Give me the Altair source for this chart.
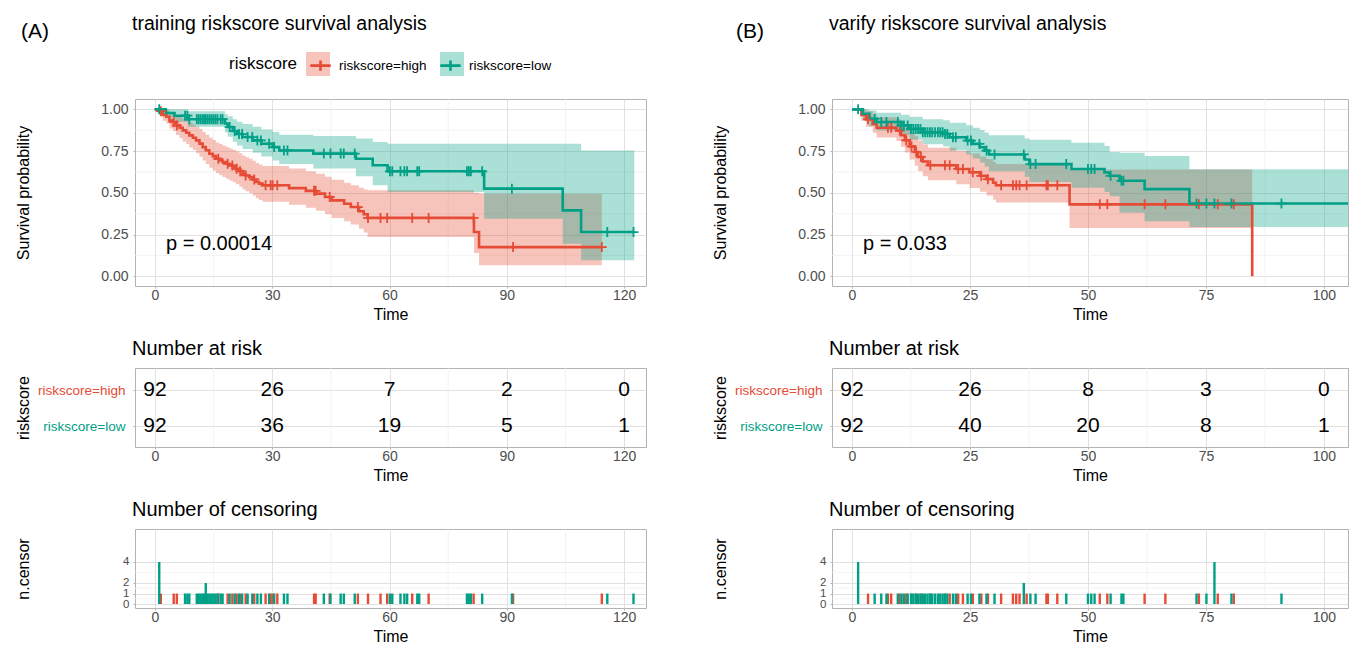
import altair as alt
import pandas as pd

RED = "#E64B35"
TEAL = "#00A087"
GROUPS = ["riskscore=high", "riskscore=low"]
SHORT = ["high", "low"]
FONT = "Liberation Sans"
MAJOR = "#DEDEDE"
MINOR = "#EEEEEE"
BORDER = "#B3B3B3"
TICKLAB = "#4D4D4D"

# ---------------- Panel A : training ----------------
A_title = "training riskscore survival analysis"
A_tag = "(A)"
A_p = "p = 0.00014"
A_ticks = [0, 30, 60, 90, 120]
A_minor = [15, 45, 75, 105]
A_xdom = [-5.1, 125.6]

A_high_t = [0, 1.0, 2.0, 2.9, 3.7, 4.6, 5.4, 6.3, 7.1, 8.0, 8.8, 9.7, 10.5, 11.4, 12.2, 13.0, 13.9, 14.8, 15.6, 16.5,
            17.3, 18.2, 19.0, 19.9, 20.7, 21.6, 22.4, 23.2, 24.1, 25.0, 25.8, 26.6, 27.5, 34.3, 38.6, 41.2, 43.5, 45.2,
            48.4, 50.1, 52.2, 53.4, 54.4, 81.6, 82.9, 114.3]
A_high_s = [1.000, 0.989, 0.967, 0.956, 0.934, 0.923, 0.904, 0.890, 0.874, 0.860, 0.844, 0.830, 0.814, 0.795, 0.774,
            0.755, 0.734, 0.720, 0.704, 0.694, 0.684, 0.674, 0.664, 0.654, 0.644, 0.630, 0.614, 0.604, 0.594, 0.580,
            0.565, 0.555, 0.545, 0.528, 0.512, 0.495, 0.475, 0.455, 0.435, 0.415, 0.390, 0.372, 0.350, 0.265, 0.175,
            0.175]
A_high_lo = [1.000, 0.968, 0.932, 0.915, 0.886, 0.870, 0.846, 0.828, 0.808, 0.792, 0.772, 0.756, 0.737, 0.716, 0.693,
             0.672, 0.650, 0.634, 0.617, 0.606, 0.595, 0.584, 0.574, 0.563, 0.552, 0.537, 0.520, 0.510, 0.499, 0.484,
             0.468, 0.457, 0.447, 0.428, 0.410, 0.392, 0.371, 0.350, 0.330, 0.310, 0.285, 0.262, 0.235, 0.140, 0.066,
             0.066]
A_high_hi = [1.000, 1.000, 1.000, 0.998, 0.985, 0.978, 0.965, 0.955, 0.944, 0.934, 0.922, 0.910, 0.898, 0.882, 0.865,
             0.848, 0.830, 0.816, 0.802, 0.793, 0.784, 0.775, 0.766, 0.758, 0.749, 0.737, 0.722, 0.713, 0.704, 0.692,
             0.678, 0.669, 0.660, 0.645, 0.630, 0.614, 0.596, 0.578, 0.560, 0.545, 0.530, 0.520, 0.515, 0.500, 0.495,
             0.495]

A_low_t = [0, 2.8, 5.0, 8.4, 17.9, 18.6, 19.9, 21.0, 22.4, 25.0, 27.2, 30.1, 31.8, 40.5, 51.4, 55.7, 59.5, 84.2,
           104.3, 109.0, 122.6]
A_low_s = [1.000, 0.978, 0.962, 0.941, 0.915, 0.894, 0.870, 0.852, 0.834, 0.814, 0.794, 0.774, 0.754, 0.735, 0.704,
           0.665, 0.629, 0.525, 0.395, 0.265, 0.265]
A_low_lo = [1.000, 0.949, 0.926, 0.896, 0.862, 0.836, 0.806, 0.784, 0.763, 0.740, 0.717, 0.694, 0.672, 0.645, 0.600,
            0.545, 0.505, 0.345, 0.195, 0.096, 0.096]
A_low_hi = [1.000, 1.000, 1.000, 0.989, 0.972, 0.958, 0.940, 0.926, 0.912, 0.896, 0.880, 0.864, 0.848, 0.840, 0.825,
            0.805, 0.794, 0.794, 0.794, 0.754, 0.754]

A_cens_low_t = [1.1, 7.7, 8.3, 8.8, 10.7, 11.2, 11.7, 12.2, 12.6, 13.0, 13.5, 14.0, 14.5, 15.0, 15.5, 16.0, 16.8, 17.3,
                19.1, 20.4, 21.5, 22.3, 23.7, 24.9, 26.2, 27.1, 29.2, 30.5, 33.0, 33.9, 43.2, 44.9, 47.5, 48.3, 51.1,
                60.1, 60.7, 62.8, 63.8, 64.5, 67.1, 67.6, 79.8, 80.3, 80.8, 83.7, 91.3, 115.7, 122.4]
A_cens_low_n = [4, 1, 1, 1, 1, 1, 1, 1, 1, 2, 1, 1, 1, 1, 1, 1, 1, 1,
                1, 1, 1, 1, 1, 1, 1, 1, 1, 1, 1, 1, 1, 1, 1, 1, 1,
                1, 1, 1, 1, 1, 1, 1, 1, 1, 1, 1, 1, 1, 1]
A_cens_high_t = [1.5, 4.8, 5.6, 16.2, 18.6, 19.8, 20.9, 21.8, 23.2, 25.4, 28.3, 29.6, 30.1, 31.3, 40.7, 41.1, 44.7,
                 51.9, 54.5, 57.7, 59.4, 65.8, 70.0, 81.5, 91.6, 114.3]
A_cens_high_n = [1] * 26

A_risk_high = [92, 26, 7, 2, 0]
A_risk_low = [92, 36, 19, 5, 1]

# ---------------- Panel B : verify ----------------
B_title = "varify riskscore survival analysis"
B_tag = "(B)"
B_p = "p = 0.033"
B_ticks = [0, 25, 50, 75, 100]
B_minor = [12.5, 37.5, 62.5, 87.5]
B_xdom = [-4.24, 105.1]

B_high_t = [0, 2.0, 3.0, 4.4, 5.2, 9.4, 10.4, 11.2, 12.2, 13.3, 14.0, 15.0, 16.1, 22.1, 24.9, 27.1, 28.5, 29.9, 30.5,
            46.1, 84.8]
B_high_s = [1.000, 0.967, 0.940, 0.913, 0.890, 0.873, 0.845, 0.815, 0.778, 0.745, 0.715, 0.688, 0.665, 0.643, 0.623,
            0.602, 0.582, 0.560, 0.545, 0.431, 0.431]
B_high_lo = [1.000, 0.931, 0.895, 0.860, 0.831, 0.810, 0.776, 0.741, 0.699, 0.662, 0.629, 0.600, 0.575, 0.551, 0.529,
             0.506, 0.484, 0.459, 0.442, 0.290, 0.290]
B_high_hi = [1.000, 1.000, 0.988, 0.968, 0.952, 0.940, 0.920, 0.896, 0.866, 0.839, 0.814, 0.790, 0.770, 0.751, 0.735,
             0.718, 0.702, 0.684, 0.672, 0.640, 0.640]
B_high_end = [84.8, 0.0]   # last event: curve drops to zero

B_low_t = [0, 2.3, 3.7, 5.2, 10.4, 12.2, 15.0, 19.3, 20.7, 24.2, 25.6, 27.1, 28.1, 29.0, 36.6, 37.6, 46.5, 53.5, 54.6,
           56.7, 62.0, 71.5, 105.2]
B_low_s = [1.000, 0.974, 0.944, 0.924, 0.904, 0.883, 0.863, 0.853, 0.833, 0.813, 0.793, 0.773, 0.753, 0.730, 0.700,
           0.672, 0.643, 0.622, 0.602, 0.572, 0.522, 0.436, 0.436]
B_low_lo = [1.000, 0.942, 0.900, 0.874, 0.846, 0.818, 0.791, 0.778, 0.753, 0.729, 0.705, 0.681, 0.658, 0.630, 0.596,
            0.565, 0.530, 0.505, 0.480, 0.380, 0.330, 0.295, 0.295]
B_low_hi = [1.000, 1.000, 0.993, 0.980, 0.968, 0.955, 0.940, 0.934, 0.920, 0.905, 0.890, 0.876, 0.862, 0.845, 0.825,
            0.818, 0.800, 0.780, 0.745, 0.740, 0.720, 0.642, 0.642]

B_cens_low_t = [1.3, 4.8, 6.2, 7.3, 9.7, 10.5, 11.0, 11.8, 12.5, 13.0, 13.5, 14.0, 14.5, 15.0, 15.5, 16.0, 16.5, 17.0,
                17.6, 18.2, 18.7, 19.2, 19.7, 20.2, 21.4, 22.0, 24.5, 25.2, 27.0, 28.5, 30.2, 36.4, 37.8, 38.9, 45.4,
                50.0, 50.7, 51.4, 54.8, 57.1, 57.5, 73.0, 75.1, 76.8, 80.4, 91.0]
B_cens_low_n = [4, 1, 1, 1, 1, 1, 1, 1, 1, 1, 1, 1, 1, 1, 1, 1, 1, 1,
                1, 1, 1, 1, 1, 1, 1, 1, 1, 1, 1, 1, 1, 2, 1, 1, 1,
                1, 1, 1, 1, 1, 1, 1, 1, 4, 1, 1]
B_cens_high_t = [3.4, 7.6, 8.3, 10.1, 11.5, 12.6, 13.6, 14.6, 16.6, 19.7, 20.7, 22.5, 23.5, 25.6, 27.4, 28.8, 31.6,
                 34.1, 34.8, 35.5, 37.0, 41.2, 41.5, 43.5, 52.5, 54.1, 62.0, 66.4, 73.5, 77.5, 80.9]
B_cens_high_n = [1] * 31

B_risk_high = [92, 26, 8, 3, 0]
B_risk_low = [92, 40, 20, 8, 1]

SURV_TICKS = [0, 0.25, 0.5, 0.75, 1.0]
SURV_MINOR = [0.125, 0.375, 0.625, 0.875]
CENS_TICKS = [0, 1, 2, 4]
CENS_MINOR = [0.5, 1.5, 3]

H_SURV = 187
H_TAB = 79
BAND_OPACITY = 0.33


def lookup(ts, ss, t):
    v = ss[0]
    for ti, si in zip(ts, ss):
        if ti <= t + 1e-9:
            v = si
    return v


def fill_legend():
    # the pale boxes behind the legend keys (no text of their own)
    return alt.Legend(title=None, orient="none", legendX=171, legendY=-47, direction="horizontal",
                      symbolType="square", symbolSize=576, symbolOpacity=BAND_OPACITY, symbolStrokeWidth=0,
                      labelExpr="''", labelOffset=0, columnPadding=110, padding=0, zindex=0)


def stroke_legend():
    return alt.Legend(title="riskscore", orient="none", legendX=94, legendY=-47, direction="horizontal",
                      titleOrient="left", titleFontSize=17, titleFontWeight="normal", titleColor="black",
                      titleFont=FONT, titlePadding=9, titleBaseline="middle", labelFontSize=13.5,
                      labelColor="black", labelFont=FONT, symbolSize=576, columnPadding=8, labelOffset=5,
                      padding=0, symbolType="M-0.85,0H0.85M0,-0.42V0.42", symbolStrokeWidth=2.6, zindex=1)


def build(P):
    w = P["w"]
    xs = alt.Scale(domain=P["xdom"], nice=False, zero=False)
    xax = alt.Axis(values=P["ticks"], title="Time")

    band_rows, line_rows, cross_rows, cens_rows = [], [], [], []
    idx = 0
    for g, sg, (ts, ss, lo, hi) in zip(GROUPS, SHORT, P["curves"]):
        for t, s, l, h in zip(ts, ss, lo, hi):
            band_rows.append(dict(time=t, lo=l, hi=h, grp_f=sg))
            line_rows.append(dict(time=t, surv=s, grp=g, idx=idx))
            idx += 1
        if g == GROUPS[0] and P.get("high_end"):
            line_rows.append(dict(time=P["high_end"][0], surv=P["high_end"][1], grp=g, idx=idx))
            idx += 1
    for g, (ct, cn), (ts, ss, lo, hi) in zip(GROUPS, P["cens"], P["curves"]):
        for t, n in zip(ct, cn):
            cross_rows.append(dict(time=t, surv=lookup(ts, ss, t), grp_c=g))
            cens_rows.append(dict(time=t, n=n, zero=0, grp_c=g))
    band_df = pd.DataFrame(band_rows)
    line_df = pd.DataFrame(line_rows)
    cross_df = pd.DataFrame(cross_rows)
    cens_df = pd.DataFrame(cens_rows)

    ys = alt.Scale(domain=[-0.058, 1.062], nice=False, zero=False)
    yax = alt.Axis(values=SURV_TICKS, format=".2f", title="Survival probability", titleX=-112, titleY=H_SURV / 2,
                   titleAngle=270, titleBaseline="middle", titleAlign="center", labelPadding=5)
    cscale = alt.Scale(domain=GROUPS, range=[RED, TEAL])
    fscale = alt.Scale(domain=SHORT, range=[RED, TEAL])

    vgrid = alt.Chart(pd.DataFrame({"time": P["minor"]})).mark_rule(color=MINOR, strokeWidth=0.7).encode(
        x=alt.X("time:Q", scale=xs, axis=xax), y=alt.value(0), y2=alt.value(H_SURV))
    hgrid = alt.Chart(pd.DataFrame({"surv": SURV_MINOR})).mark_rule(color=MINOR, strokeWidth=0.7).encode(
        y=alt.Y("surv:Q", scale=ys, axis=yax), x=alt.value(0), x2=alt.value(w))
    band = alt.Chart(band_df).mark_area(interpolate="step-after", opacity=BAND_OPACITY, clip=True).encode(
        x=alt.X("time:Q", scale=xs, axis=xax),
        y=alt.Y("lo:Q", scale=ys, axis=yax), y2="hi:Q",
        fill=alt.Fill("grp_f:N", scale=fscale, legend=fill_legend()))
    line = alt.Chart(line_df).mark_line(interpolate="step-after", strokeWidth=2.6, clip=True).encode(
        x=alt.X("time:Q", scale=xs, axis=xax),
        y=alt.Y("surv:Q", scale=ys, axis=yax),
        stroke=alt.Stroke("grp:N", scale=cscale, legend=stroke_legend()),
        order="idx:Q")
    cross = alt.Chart(cross_df).mark_point(shape="M-1,0H1M0,-1V1", filled=False, size=100, strokeWidth=1.8,
                                           opacity=1, clip=True).encode(
        x=alt.X("time:Q", scale=xs, axis=xax),
        y=alt.Y("surv:Q", scale=ys, axis=yax),
        color=alt.Color("grp_c:N", scale=cscale, legend=None))
    ttl = alt.Chart(pd.DataFrame({"label": [P["title"]]})).mark_text(
        align="left", baseline="middle", fontSize=19.5, font=FONT, color="black").encode(
        text="label:N", x=alt.value(-3), y=alt.value(-75))
    tag = alt.Chart(pd.DataFrame({"label": [P["tag"]]})).mark_text(
        align="left", baseline="middle", fontSize=21, font=FONT, color="black").encode(
        text="label:N", x=alt.value(P["tag_x"]), y=alt.value(-67))
    pv = alt.Chart(pd.DataFrame({"label": [P["p"]]})).mark_text(
        align="left", baseline="middle", fontSize=20, font=FONT, color="black").encode(
        text="label:N", x=alt.value(31), y=alt.value(145))
    surv = alt.layer(vgrid, hgrid, band, line, cross, pv, ttl, tag).properties(width=w, height=H_SURV)

    # ---- risk table ----
    rrows = []
    for t, nh, nl in zip(P["ticks"], P["risk_high"], P["risk_low"]):
        rrows.append(dict(time=t, row=2, n=nh))
        rrows.append(dict(time=t, row=1, n=nl))
    rdf = pd.DataFrame(rrows)
    ry = alt.Scale(domain=[0.42, 2.61], nice=False, zero=False)
    ryax = alt.Axis(values=[1, 2], labelExpr="datum.value == 2 ? 'riskscore=high' : 'riskscore=low'",
                    labelColor={"condition": {"test": "datum.value == 2", "value": RED}, "value": TEAL},
                    labelFontSize=13.5, labelPadding=8, title="riskscore", titleX=-112, titleY=H_TAB / 2,
                    titleAngle=270, titleBaseline="middle", titleAlign="center")
    rgrid = alt.Chart(pd.DataFrame({"time": P["minor"]})).mark_rule(color=MINOR, strokeWidth=0.7).encode(
        x=alt.X("time:Q", scale=xs, axis=xax), y=alt.value(0), y2=alt.value(H_TAB))
    rtext = alt.Chart(rdf).mark_text(fontSize=21, font=FONT, color="black").encode(
        x=alt.X("time:Q", scale=xs, axis=xax),
        y=alt.Y("row:Q", scale=ry, axis=ryax),
        text="n:Q")
    risk = alt.layer(rgrid, rtext).properties(
        width=w, height=H_TAB,
        title=alt.TitleParams("Number at risk", anchor="start", frame="group", fontSize=20, fontWeight="normal",
                              color="black", font=FONT, dx=-3, offset=9))

    # ---- censoring ----
    cy = alt.Scale(domain=[-0.38, 7.14], nice=False, zero=False)
    cyax = alt.Axis(values=CENS_TICKS, title="n.censor", titleX=-112, titleY=H_TAB / 2, labelOverlap=False,
                    labelFontSize=11.5, titleAngle=270, titleBaseline="middle", titleAlign="center",
                    labelPadding=4)
    cgridv = alt.Chart(pd.DataFrame({"time": P["minor"]})).mark_rule(color=MINOR, strokeWidth=0.7).encode(
        x=alt.X("time:Q", scale=xs, axis=xax), y=alt.value(0), y2=alt.value(H_TAB))
    cgridh = alt.Chart(pd.DataFrame({"n": CENS_MINOR})).mark_rule(color=MINOR, strokeWidth=0.7).encode(
        y=alt.Y("n:Q", scale=cy, axis=cyax), x=alt.value(0), x2=alt.value(w))
    bars = alt.Chart(cens_df).mark_rule(strokeWidth=2.4).encode(
        x=alt.X("time:Q", scale=xs, axis=xax),
        y=alt.Y("zero:Q", scale=cy, axis=cyax), y2="n:Q",
        color=alt.Color("grp_c:N", scale=cscale, legend=None))
    cens = alt.layer(cgridv, cgridh, bars).properties(
        width=w, height=H_TAB,
        title=alt.TitleParams("Number of censoring", anchor="start", frame="group", fontSize=20,
                              fontWeight="normal", color="black", font=FONT, dx=-3, offset=9))

    return alt.vconcat(surv, risk, cens, spacing=15)


PA = dict(w=511, xdom=A_xdom, ticks=A_ticks, minor=A_minor, title=A_title, tag=A_tag, tag_x=-114, p=A_p,
          curves=[(A_high_t, A_high_s, A_high_lo, A_high_hi), (A_low_t, A_low_s, A_low_lo, A_low_hi)],
          cens=[(A_cens_high_t, A_cens_high_n), (A_cens_low_t, A_cens_low_n)],
          risk_high=A_risk_high, risk_low=A_risk_low)
PB = dict(w=516, xdom=B_xdom, ticks=B_ticks, minor=B_minor, title=B_title, tag=B_tag, tag_x=-96, p=B_p,
          curves=[(B_high_t, B_high_s, B_high_lo, B_high_hi), (B_low_t, B_low_s, B_low_lo, B_low_hi)],
          cens=[(B_cens_high_t, B_cens_high_n), (B_cens_low_t, B_cens_low_n)],
          risk_high=B_risk_high, risk_low=B_risk_low, high_end=B_high_end)

chart = alt.hconcat(build(PA), build(PB), spacing=64).properties(
    padding={"left": 14, "top": 13, "right": 0, "bottom": 0})

chart = chart.configure(font=FONT).configure_view(stroke=BORDER, strokeWidth=1).configure_axis(
    domain=False, tickColor=BORDER, tickSize=2, labelColor=TICKLAB, labelFontSize=14, labelFont=FONT,
    titleFont=FONT, titleFontSize=16, titleFontWeight="normal", titleColor="black", gridColor=MAJOR,
    gridWidth=0.9, labelPadding=0, titlePadding=4)

chart.save("out.html", embed_options={"renderer": "svg", "actions": False})
